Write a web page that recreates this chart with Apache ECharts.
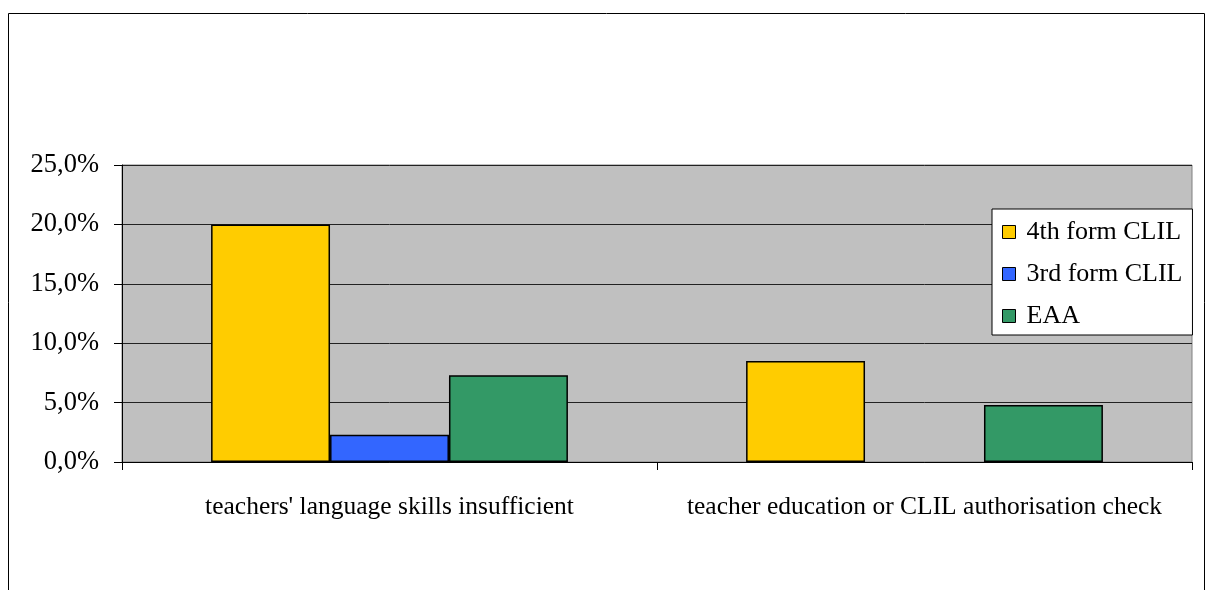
<!DOCTYPE html>
<html>
<head>
<meta charset="utf-8">
<script src="https://cdn.jsdelivr.net/npm/echarts@6/dist/echarts.min.js"></script>
<style>
  html, body { margin: 0; padding: 0; background: #fff; }
  #chart { width: 1206px; height: 590px; }
</style>
</head>
<body>
<div id="chart"></div>
<script>
// Share of answers (percent) per reason and school type
const categories = ["teachers' language skills insufficient", "teacher education or CLIL authorisation check"];
const seriesNames = ['4th form CLIL', '3rd form CLIL', 'EAA'];
const form4Clil = [20.0, 8.5];
const form3Clil = [2.3, null];
const eaa = [7.3, 4.8];
const seriesColors = ['#FFCC00', '#3366FF', '#339966'];

const FONT = '"Liberation Serif", "Times New Roman", serif';
const chart = echarts.init(document.getElementById('chart'), null, { renderer: 'canvas' });

const values = [form4Clil, form3Clil, eaa];

chart.setOption({
  animation: false,
  backgroundColor: '#ffffff',
  textStyle: { fontFamily: FONT, color: '#000' },
  graphic: [{
    type: 'rect',
    shape: { x: 8.5, y: 13.5, width: 1196, height: 620 },
    style: { fill: null, stroke: '#000', lineWidth: 1 },
    silent: true,
    z: -1
  }],
  grid: {
    left: 122, right: 14, top: 165, bottom: 128,
    show: true,
    backgroundColor: '#C0C0C0',
    borderColor: '#808080',
    borderWidth: 1
  },
  legend: {
    orient: 'vertical',
    left: 992, top: 209,
    backgroundColor: '#ffffff',
    borderColor: '#000',
    borderWidth: 1,
    borderRadius: 0,
    padding: [10, 10, 6, 10],
    itemWidth: 13, itemHeight: 13,
    itemGap: 16,
    textStyle: { fontFamily: FONT, fontSize: 26, color: '#000', padding: [0, 0, 0, 6] },
    data: seriesNames.map(n => ({ name: n, icon: 'rect', itemStyle: { borderColor: '#000', borderWidth: 1 } }))
  },
  xAxis: {
    type: 'category',
    data: categories,
    axisLine: { lineStyle: { color: '#000', width: 1 } },
    axisTick: { show: true, length: 8, lineStyle: { color: '#000' } },
    axisLabel: { fontFamily: FONT, fontSize: 25.5, color: '#000', margin: 32, interval: 0 },
    splitLine: { show: false }
  },
  yAxis: {
    type: 'value',
    min: 0, max: 25, interval: 5,
    axisLine: { show: true, lineStyle: { color: '#000', width: 1 } },
    axisTick: { show: true, length: 8, lineStyle: { color: '#000' } },
    axisLabel: {
      fontFamily: FONT, fontSize: 26.5, color: '#000', margin: 23,
      formatter: v => v.toFixed(1).replace('.', ',') + '%'
    },
    splitLine: { show: true, lineStyle: { color: '#222', width: 1 } }
  },
  series: seriesNames.map((name, i) => ({
    name,
    type: 'bar',
    data: values[i],
    barGap: '0%',
    barCategoryGap: '33.3%',
    itemStyle: { color: seriesColors[i], borderColor: '#000', borderWidth: 1.5 }
  }))
});
</script>
</body>
</html>
